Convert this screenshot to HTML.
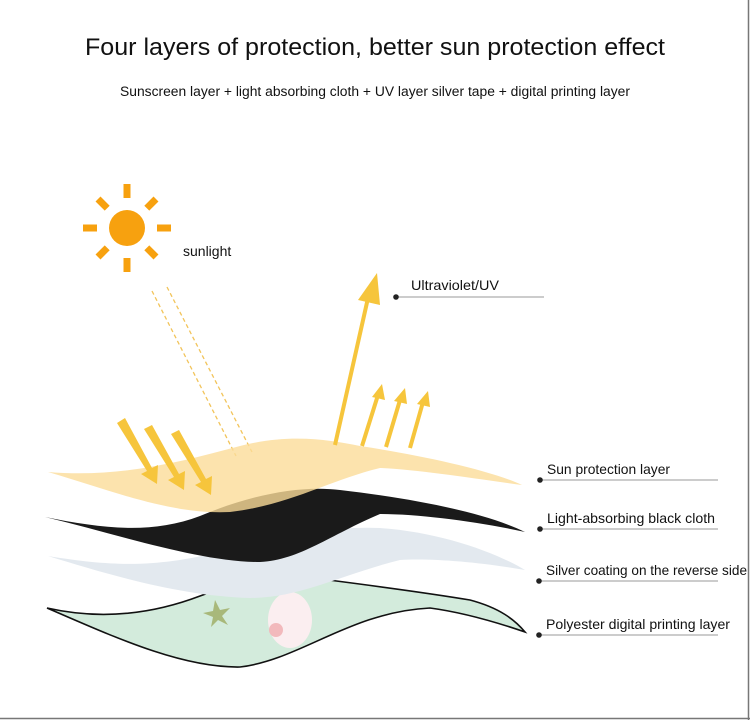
<!DOCTYPE html>
<html><head><meta charset="utf-8"><style>
html,body{margin:0;padding:0;background:#fff}
svg{display:block}
text{font-family:"Liberation Sans Narrow","Liberation Sans",sans-serif;fill:#111}
</style></head><body>
<svg width="750" height="720" viewBox="0 0 750 720" xmlns="http://www.w3.org/2000/svg">
<rect x="0" y="0" width="750" height="720" fill="#fff"/>
<line x1="748.5" y1="0" x2="748.5" y2="720" stroke="#777" stroke-width="1.5"/>
<line x1="0" y1="718.5" x2="750" y2="718.5" stroke="#777" stroke-width="1.5"/>
<text x="85" y="55" font-size="24" textLength="580" lengthAdjust="spacingAndGlyphs">Four layers of protection, better sun protection effect</text>
<text x="120" y="96" font-size="13.5" textLength="510" lengthAdjust="spacingAndGlyphs">Sunscreen layer + light absorbing cloth + UV layer silver tape + digital printing layer</text>

<!-- sun -->
<g fill="#f7a10f">
<circle cx="127" cy="228" r="18"/>
<g transform="translate(127,228)">
<rect x="-3.5" y="-44" width="7" height="14"/>
<rect x="-3.5" y="30" width="7" height="14"/>
<rect x="-44" y="-3.5" width="14" height="7"/>
<rect x="30" y="-3.5" width="14" height="7"/>
<rect x="-3.5" y="-41" width="7" height="13" transform="rotate(45)"/>
<rect x="-3.5" y="-41" width="7" height="13" transform="rotate(135)"/>
<rect x="-3.5" y="-41" width="7" height="13" transform="rotate(225)"/>
<rect x="-3.5" y="-41" width="7" height="13" transform="rotate(315)"/>
</g></g>
<text x="183" y="256" font-size="14">sunlight</text>

<!-- dashed rays -->
<g stroke="#f2c45a" stroke-width="1.3" stroke-dasharray="4,3">
<line x1="152" y1="291" x2="236" y2="456"/>
<line x1="167" y1="287" x2="252" y2="452"/>
</g>

<!-- green layer (behind silver) -->
<path d="M47,608 C100,620 150,615 200,596 C230,585 250,575 265,572 C330,580 410,590 470,600 C500,608 515,620 525,632 C490,620 460,612 430,608 C350,612 300,660 240,667 C180,668 110,635 47,608 Z" fill="#d3ebdc" stroke="#111" stroke-width="1.6"/>
<ellipse cx="290" cy="620" rx="22" ry="28" fill="#fbeef0"/>
<circle cx="276" cy="630" r="7" fill="#f2b9bc"/>
<path d="M215,600 l5,10 10,-2 -8,8 6,9 -10,-5 -7,7 2,-10 -10,-4 10,-2z" fill="#a8b87a"/>

<!-- silver layer -->
<path d="M48,556 C120,568 160,566 220,552 C280,536 330,526 380,528 C440,532 495,552 525,570 C480,562 430,558 400,560 C340,575 300,598 250,598 C180,596 110,575 48,556 Z" fill="#e3e9ef"/>

<!-- black layer -->
<path d="M45,517 C100,528 150,535 200,516 C250,495 300,485 340,490 C400,497 480,510 525,532 C480,522 420,514 380,514 C330,535 300,560 260,562 C200,562 120,535 45,517 Z" fill="#1a1a1a"/>

<!-- yellow layer -->
<path d="M48,472 C120,478 180,462 240,446 C290,433 330,440 360,446 C420,455 490,470 522,485 C470,478 420,470 380,468 C330,480 290,505 230,512 C170,515 110,490 48,472 Z" fill="#fbdc98" opacity="0.8"/>

<!-- down arrows -->
<g fill="#f6c53c">
<path d="M117,423 L125,418 L152,468 L158,465 L157,484 L141,474 L147,471 Z"/>
<path d="M144,429 L152,425 L179,474 L185,471 L184,490 L168,480 L174,477 Z"/>
<path d="M171,434 L179,430 L206,479 L212,476 L211,495 L195,485 L201,482 Z"/>
</g>

<!-- up arrows -->
<g stroke="#f6c53c" stroke-width="4" fill="none">
<line x1="335" y1="445" x2="368" y2="298"/>
<line x1="362" y1="446" x2="378" y2="395"/>
<line x1="386" y1="447" x2="400" y2="400"/>
<line x1="410" y1="448" x2="423" y2="402"/>
</g>
<g fill="#f6c53c">
<path d="M377,273 L380,305 L358,300 Z"/>
<path d="M382,384 L385,400 L372,397 Z"/>
<path d="M405,388 L407,404 L394,401 Z"/>
<path d="M428,391 L430,407 L417,404 Z"/>
</g>

<!-- labels -->
<g stroke="#999" stroke-width="1">
<line x1="396" y1="297" x2="544" y2="297"/>
<line x1="540" y1="480" x2="718" y2="480"/>
<line x1="540" y1="529" x2="718" y2="529"/>
<line x1="539" y1="581" x2="718" y2="581"/>
<line x1="539" y1="635" x2="718" y2="635"/>
</g>
<g fill="#222">
<circle cx="396" cy="297" r="2.8"/>
<circle cx="540" cy="480" r="2.8"/>
<circle cx="540" cy="529" r="2.8"/>
<circle cx="539" cy="581" r="2.8"/>
<circle cx="539" cy="635" r="2.8"/>
</g>
<text x="411" y="290" font-size="14" textLength="88" lengthAdjust="spacingAndGlyphs">Ultraviolet/UV</text>
<text x="547" y="474" font-size="14" textLength="123" lengthAdjust="spacingAndGlyphs">Sun protection layer</text>
<text x="547" y="523" font-size="14" textLength="168" lengthAdjust="spacingAndGlyphs">Light-absorbing black cloth</text>
<text x="546" y="575" font-size="14" textLength="201" lengthAdjust="spacingAndGlyphs">Silver coating on the reverse side</text>
<text x="546" y="629" font-size="14" textLength="184" lengthAdjust="spacingAndGlyphs">Polyester digital printing layer</text>
</svg>
</body></html>
